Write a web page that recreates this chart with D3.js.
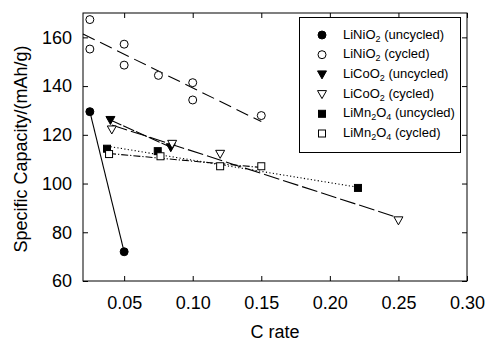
<!DOCTYPE html>
<html><head><meta charset="utf-8">
<script src="https://cdn.jsdelivr.net/npm/d3@7"></script>
<style>body{margin:0;background:#fff}svg{display:block}text{font-family:"Liberation Sans",Arial,sans-serif;fill:#000}</style>
</head><body><div id="chart"></div>
<script>
// Data (C rate, specific capacity mAh/g)
const xTicks = [0.05, 0.10, 0.15, 0.20, 0.25, 0.30];
const yTicks = [60, 80, 100, 120, 140, 160];
const liNiUncycledX = [0.025, 0.05];
const liNiUncycledY = [129.5, 72];
const liNiCycledX = [0.025, 0.025, 0.05, 0.05, 0.075, 0.10, 0.10, 0.15];
const liNiCycledY = [167.3, 155.2, 157.2, 148.6, 144.4, 141.4, 134.3, 127.9];
const liCoUncycledX = [0.040, 0.084];
const liCoUncycledY = [126.1, 114.9];
const liCoCycledX = [0.041, 0.085, 0.120, 0.250];
const liCoCycledY = [122.2, 116.3, 112.2, 84.9];
const liMnUncycledX = [0.0375, 0.0745, 0.2205];
const liMnUncycledY = [114.3, 113.3, 98.2];
const liMnCycledX = [0.039, 0.0765, 0.120, 0.150];
const liMnCycledY = [112.1, 111.2, 107.1, 107.1];
// x-range covered by each linear-fit line
const fitStart = [0.025, 0.02, 0.040, 0.041, 0.0375, 0.039];
const fitEnd   = [0.05, 0.15, 0.084, 0.250, 0.2205, 0.150];
const seriesNames = [["LiNiO","2"," (uncycled)"],["LiNiO","2"," (cycled)"],["LiCoO","2"," (uncycled)"],["LiCoO","2"," (cycled)"],["LiMn","2","O","4"," (uncycled)"],["LiMn","2","O","4"," (cycled)"]];

const W = 487, H = 342;
const m = {left: 83, right: 20, top: 13, bottom: 61};
const x = d3.scaleLinear().domain([0.02, 0.30]).range([m.left, W - m.right]);
const y = d3.scaleLinear().domain([60, 170]).range([H - m.bottom, m.top]);

const svg = d3.select("#chart").append("svg").attr("width", W).attr("height", H);

const series = [
  {xs: liNiUncycledX, ys: liNiUncycledY, marker: "circle", fill: true, dash: null},
  {xs: liNiCycledX, ys: liNiCycledY, marker: "circle", fill: false, dash: "13,6"},
  {xs: liCoUncycledX, ys: liCoUncycledY, marker: "tri", fill: true, dash: "12,2"},
  {xs: liCoCycledX, ys: liCoCycledY, marker: "tri", fill: false, dash: "16,4"},
  {xs: liMnUncycledX, ys: liMnUncycledY, marker: "square", fill: true, dash: "1.2,2.3"},
  {xs: liMnCycledX, ys: liMnCycledY, marker: "square", fill: false, dash: "7,2,1.2,2"}
];

function fit(xs, ys) {
  const mx = d3.mean(xs), my = d3.mean(ys);
  let sxy = 0, sxx = 0;
  xs.forEach((v, i) => { sxy += (v - mx) * (ys[i] - my); sxx += (v - mx) * (v - mx); });
  const b = sxy / sxx;
  return v => my + b * (v - mx);
}

// frame
const g = svg.append("g");
g.append("rect").attr("x", m.left).attr("y", m.top).attr("width", W - m.left - m.right).attr("height", H - m.top - m.bottom)
  .attr("fill", "none").attr("stroke", "#000").attr("stroke-width", 1);

// axes (ticks inward)
const tl = 5;
const bottomAxis = d3.axisBottom(x).tickValues(xTicks).tickSize(-tl).tickFormat(d3.format(".2f"));
const topAxis = d3.axisTop(x).tickValues(xTicks).tickSize(-tl).tickFormat("");
const leftAxis = d3.axisLeft(y).tickValues(yTicks).tickSize(-tl).tickFormat(d3.format("d"));
const rightAxis = d3.axisRight(y).tickValues(yTicks).tickSize(-tl).tickFormat("");
function styleAxis(sel) {
  sel.select(".domain").remove();
  sel.selectAll("line").attr("stroke", "#000");
  sel.selectAll("text").attr("font-size", 18).attr("fill", "#000").attr("font-family", "Liberation Sans, Arial, sans-serif");
}
svg.append("g").attr("transform", `translate(0,${H - m.bottom})`).call(bottomAxis).call(styleAxis)
  .selectAll("text").attr("y", 15);
svg.append("g").attr("transform", `translate(0,${m.top})`).call(topAxis).call(styleAxis);
svg.append("g").attr("transform", `translate(${m.left},0)`).call(leftAxis).call(styleAxis)
  .selectAll("text").attr("x", -11);
svg.append("g").attr("transform", `translate(${W - m.right},0)`).call(rightAxis).call(styleAxis);

// axis titles
svg.append("text").attr("x", (m.left + W - m.right) / 2).attr("y", 338).attr("text-anchor", "middle")
  .attr("font-size", 18).text("C rate");
svg.append("text").attr("transform", `translate(27,${(m.top + H - m.bottom) / 2 + 2}) rotate(-90)`).attr("text-anchor", "middle")
  .attr("font-size", 18).text("Specific Capacity/(mAh/g)");

// fit lines
series.forEach((s, i) => {
  const f = fit(s.xs, s.ys);
  svg.append("line")
    .attr("x1", x(fitStart[i])).attr("y1", y(f(fitStart[i])))
    .attr("x2", x(fitEnd[i])).attr("y2", y(f(fitEnd[i])))
    .attr("stroke", "#000").attr("stroke-width", 1.1)
    .attr("stroke-dasharray", s.dash);
});

// markers
function drawMarker(sel, type, fill, cx, cy) {
  const fc = fill ? "#000" : "#fff";
  if (type === "circle") {
    sel.append("circle").attr("cx", cx).attr("cy", cy).attr("r", 4).attr("fill", fc).attr("stroke", "#000").attr("stroke-width", 1);
  } else if (type === "square") {
    sel.append("rect").attr("x", cx - 3.5).attr("y", cy - 3.5).attr("width", 7).attr("height", 7).attr("fill", fc).attr("stroke", "#000").attr("stroke-width", 1);
  } else {
    sel.append("path").attr("d", `M${cx - 4.5},${cy - 3.5}L${cx + 4.5},${cy - 3.5}L${cx},${cy + 4.5}Z`).attr("fill", fc).attr("stroke", "#000").attr("stroke-width", 1);
  }
}
const mk = svg.append("g");
series.forEach(s => {
  s.xs.forEach((v, i) => drawMarker(mk, s.marker, s.fill, x(v), y(s.ys[i])));
});

// legend
const lg = svg.append("g");
lg.append("rect").attr("x", 299.5).attr("y", 17.5).attr("width", 161).attr("height", 135)
  .attr("fill", "#fff").attr("stroke", "#000").attr("stroke-width", 1);
seriesNames.forEach((parts, i) => {
  const cy = 34 + i * 19.7;
  drawMarker(lg, series[i].marker, series[i].fill, 322, cy + 1);
  const t = lg.append("text").attr("x", 343).attr("y", cy + 4.5).attr("font-size", 13);
  parts.forEach((p, j) => {
    const isSub = /^\d$/.test(p);
    t.append("tspan").attr("font-size", isSub ? 9 : 13).attr("dy", isSub ? 3 : (j > 0 ? -3 : 0)).text(p);
  });
});
</script></body></html>
